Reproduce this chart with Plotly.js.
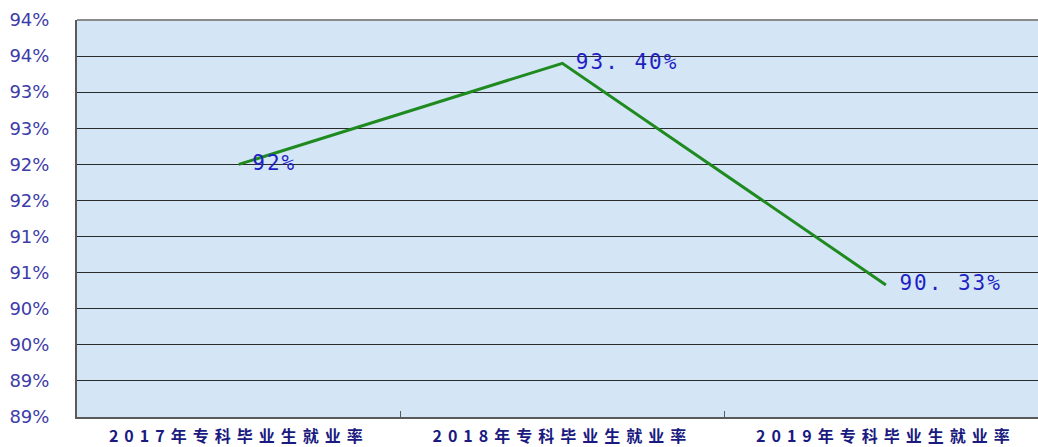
<!DOCTYPE html>
<html>
<head>
<meta charset="utf-8">
<script src="https://cdn.plot.ly/plotly-3.0.1.min.js"></script>
<style>
html,body{margin:0;padding:0;background:#fff;}
#chart{width:1038px;height:447px;}
#chart .xtick text{letter-spacing:6px;}
#chart .textpoint text{letter-spacing:2px;}
</style>
</head>
<body>
<div id="chart"></div>
<script>
const categories = ["2017年专科毕业生就业率", "2018年专科毕业生就业率", "2019年专科毕业生就业率"];
const rates = [92, 93.40, 90.33];
const rateLabels = ["92%", "93. 40%", "90. 33%"];
const yTickValues = [88.5, 89, 89.5, 90, 90.5, 91, 91.5, 92, 92.5, 93, 93.5, 94];
const yTickLabels = ["89%", "89%", "90%", "90%", "91%", "91%", "92%", "92%", "93%", "93%", "94%", "94%"];

const trace = {
  type: "scatter",
  mode: "lines+markers+text",
  x: categories,
  y: rates,
  text: rateLabels,
  textposition: "middle right",
  textfont: {family: "DejaVu Sans Mono", size: 21, color: "#1f1fc4"},
  line: {color: "#1f8a1f", width: 3},
  marker: {size: 20, color: "rgba(0,0,0,0)", line: {width: 0}},
  hoverinfo: "none",
  cliponaxis: false
};

const layout = {
  width: 1038,
  height: 447,
  margin: {l: 77, r: 0, t: 20, b: 30},
  paper_bgcolor: "#ffffff",
  plot_bgcolor: "#d4e6f6",
  showlegend: false,
  xaxis: {
    type: "category",
    range: [-0.5, 2.47],
    showgrid: false,
    showline: true,
    linecolor: "#5a5a5a",
    linewidth: 2,
    ticks: "inside",
    tickson: "boundaries",
    ticklen: 6,
    tickcolor: "#5a5a5a",
    tickfont: {family: "Noto Sans CJK SC", size: 16, color: "#1a1a80", weight: "bold"},
    ticklabelstandoff: 4,
    zeroline: false
  },
  yaxis: {
    range: [88.5, 94],
    tickmode: "array",
    tickvals: yTickValues,
    ticktext: yTickLabels,
    showgrid: true,
    gridcolor: "#2a2a2a",
    gridwidth: 1,
    showline: true,
    linecolor: "#5a5a5a",
    linewidth: 2,
    ticks: "",
    tickfont: {family: "DejaVu Sans", size: 18, color: "#3c3ca8"},
    ticklabelstandoff: 22,
    zeroline: false
  },
  shapes: [{
    type: "line", xref: "paper", yref: "paper", x0: 0, x1: 1, y0: 1, y1: 1,
    line: {color: "#8a8a8a", width: 2}
  }]
};

Plotly.newPlot("chart", [trace], layout, {displayModeBar: false, staticPlot: true});
</script>
</body>
</html>
